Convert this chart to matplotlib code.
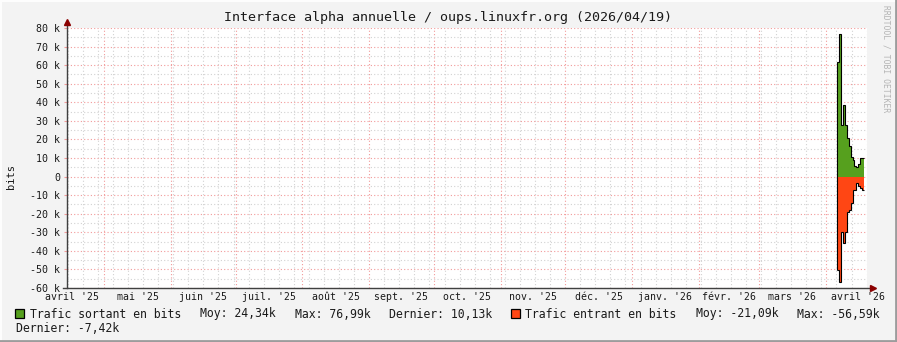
import numpy as np
import pandas as pd
import matplotlib
matplotlib.use('Agg')
import matplotlib.pyplot as plt
import matplotlib.dates as mdates
from matplotlib.lines import Line2D
from matplotlib.patches import Rectangle
from matplotlib.ticker import MultipleLocator, FuncFormatter

# --- data ---
title = "Interface alpha annuelle / oups.linuxfr.org (2026/04/19)"
step_start = '2026-04-06 02:40'
step_end = '2026-04-18 22:20'
sortant = [61.7, 76.99, 27.6, 38.7, 28.0, 20.8, 16.3, 10.4, 9.1, 5.5, 5.0, 6.8, 10.0, 10.13]
entrant = [-50.3, -56.59, -29.7, -35.9, -29.7, -18.9, -18.0, -14.4, -7.2, -7.0, -3.6, -4.9, -6.3, -7.42]
month_labels = ["avril '25", "mai '25", "juin '25", "juil. '25", "août '25", "sept. '25",
                "oct. '25", "nov. '25", "déc. '25", "janv. '26", "févr. '26", "mars '26",
                "avril '26"]
series_names = ["Trafic sortant en bits", "Trafic entrant en bits"]
series_moy = ["24,34k", "-21,09k"]
series_max = ["76,99k", "-56,59k"]
series_last = ["10,13k", "-7,42k"]

green = '#56a01e'
red = '#ff4614'
mono = 'DejaVu Sans Mono'

W, H = 897, 342
fig = plt.figure(figsize=(W / 100, H / 100), dpi=100)
fig.patch.set_facecolor('#f3f3f3')
ax = fig.add_axes([67 / W, (H - 288) / H, 800 / W, 260 / H])
ax.set_facecolor('white')

edges = pd.date_range(step_start, step_end, periods=len(sortant) + 1)
xe = mdates.date2num(edges)
vs = np.array(sortant) * 1000
ve = np.array(entrant) * 1000
ax.stairs(vs, xe, baseline=0, fill=True, color=green, lw=0, zorder=3)
ax.stairs(ve, xe, baseline=0, fill=True, color=red, lw=0, zorder=3)
ax.stairs(vs, xe, baseline=None, color='black', lw=0.8, zorder=4)
ax.stairs(ve, xe, baseline=None, color='black', lw=0.8, zorder=4)
ax.vlines(xe[0], ve[0], vs[0], color='black', lw=0.8, zorder=4)

ax.set_xlim(mdates.date2num(pd.Timestamp('2025-04-13 16:00')),
            mdates.date2num(pd.Timestamp('2026-04-20 04:00')))
ax.set_ylim(-60000, 80000)

# grid
dot = (0, (1, 2))
ax.yaxis.set_major_locator(MultipleLocator(10000))
ax.yaxis.set_minor_locator(MultipleLocator(5000))
ax.yaxis.set_major_formatter(FuncFormatter(lambda v, p: '0' if v == 0 else '%d k' % round(v / 1000)))
ax.xaxis.set_major_locator(mdates.MonthLocator())
ax.xaxis.set_minor_locator(mdates.WeekdayLocator(byweekday=mdates.MO))
ax.grid(True, which='minor', color='#d2d2d2', ls=dot, lw=0.8, zorder=1)
ax.grid(True, which='major', color='#f29a9a', ls=dot, lw=0.8, zorder=2)
ax.xaxis.set_major_formatter(plt.NullFormatter())
ax.tick_params(axis='x', which='both', length=0)

# month labels centered on mid-month
starts = pd.date_range('2025-04-01', '2026-05-01', freq='MS')
mids = starts[:-1] + (starts[1:] - starts[:-1]) / 2
for m, lab in zip(mids, month_labels):
    ax.text(mdates.date2num(m), -0.035, lab, transform=ax.get_xaxis_transform(),
            ha='center', va='center', fontsize=7.1, family=mono, color='#1a1a1a',
            clip_on=False)

ax.tick_params(axis='y', which='major', length=2.5, width=0.8, color='#f29a9a',
               pad=2.5, labelsize=7.2, labelcolor='#1a1a1a')
ax.tick_params(axis='y', which='minor', length=0)
for t in ax.get_yticklabels():
    t.set_family(mono)

for s in ax.spines.values():
    s.set_visible(False)

# axes lines with arrows
axis_col = '#404040'
arrow_col = '#8b0000'
ax.add_line(Line2D([-0.005, 1.006], [0, 0], transform=ax.transAxes, color=axis_col,
                   lw=1, clip_on=False, zorder=5))
ax.add_line(Line2D([0, 0], [0, 1.02], transform=ax.transAxes, color=axis_col,
                   lw=1, clip_on=False, zorder=5))
ax.plot([1.0075], [0], marker='>', ms=4.5, color=arrow_col, transform=ax.transAxes,
        clip_on=False, zorder=6)
ax.plot([0], [1.023], marker='^', ms=4.5, color=arrow_col, transform=ax.transAxes,
        clip_on=False, zorder=6)

ax.set_ylabel('bits', family=mono, fontsize=7.5, color='#1a1a1a')
ax.yaxis.set_label_coords(-51 / 800, 0.43)

# title and watermark
fig.text(448 / W, 1 - 18 / H, title, ha='center', va='center', family=mono,
         fontsize=9.6, color='#1a1a1a')
fig.text(886 / W, 1 - 5 / H, 'RRDTOOL / TOBI OETIKER', rotation=270, ha='center',
         va='top', family=mono, fontsize=5.8, color='#b4b4b4')

# legend
colors = [green, red]
sq_x = [15, 511]
name_x = [30, 525]
moy_x = [200, 696]
max_x = [295, 797]
last_pos = [(389, 314), (16, 328)]
for i in range(2):
    fig.patches.append(Rectangle((sq_x[i] / W, 1 - 318 / H), 9 / W, 9 / H,
                                 transform=fig.transFigure, facecolor=colors[i],
                                 edgecolor='black', lw=0.9))
    fig.text(name_x[i] / W, 1 - 314 / H, series_names[i], va='center', family=mono,
             fontsize=8.3, color='#1a1a1a')
    fig.text(moy_x[i] / W, 1 - 314 / H, 'Moy: ' + series_moy[i], va='center',
             family=mono, fontsize=8.3, color='#1a1a1a')
    fig.text(max_x[i] / W, 1 - 314 / H, 'Max: ' + series_max[i], va='center',
             family=mono, fontsize=8.3, color='#1a1a1a')
    lx, ly = last_pos[i]
    fig.text(lx / W, 1 - ly / H, 'Dernier: ' + series_last[i], va='center',
             family=mono, fontsize=8.3, color='#1a1a1a')

# frame border
fig.lines.append(Line2D([0, 1], [1 - 0.5 / H, 1 - 0.5 / H], transform=fig.transFigure,
                        color='#fdfdfd', lw=1.5))
fig.lines.append(Line2D([0.5 / W, 0.5 / W], [0, 1], transform=fig.transFigure,
                        color='#fdfdfd', lw=1.5))
fig.lines.append(Line2D([0, 1], [1.2 / H, 1.2 / H], transform=fig.transFigure,
                        color='#9c9c9c', lw=2))
fig.lines.append(Line2D([1 - 1.2 / W, 1 - 1.2 / W], [0, 1], transform=fig.transFigure,
                        color='#9c9c9c', lw=2))

fig.savefig('out.png', dpi=100, facecolor=fig.get_facecolor())
